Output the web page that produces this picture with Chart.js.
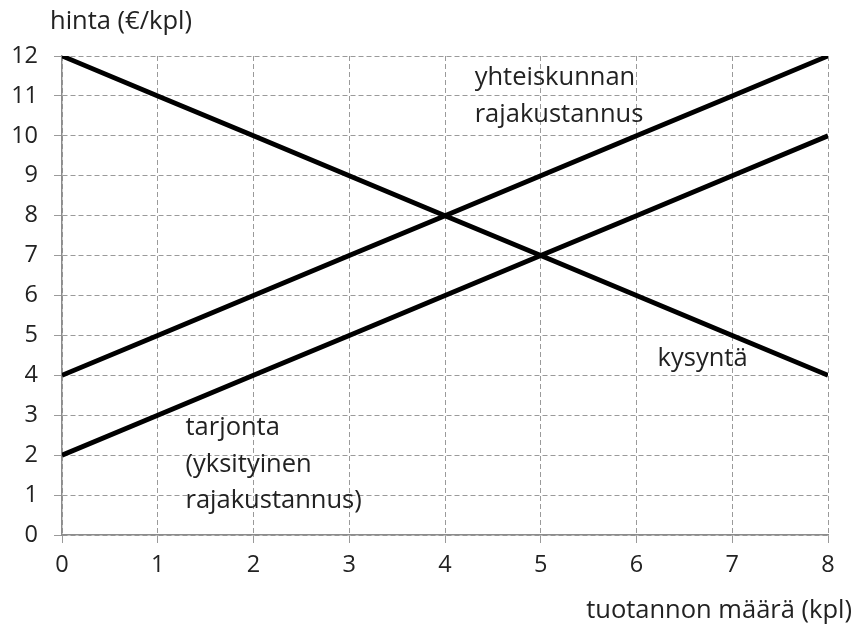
<!DOCTYPE html>
<html>
<head>
<meta charset="utf-8">
<script src="https://cdn.jsdelivr.net/npm/chart.js@4"></script>
<style>
html,body{margin:0;padding:0;background:#fff;}
#wrap{width:855px;height:628px;position:relative;}
</style>
</head>
<body>
<div id="wrap"><canvas id="c" width="855" height="628"></canvas></div>
<script>
const quantities = [0, 1, 2, 3, 4, 5, 6, 7, 8];
const demand = [12, 11, 10, 9, 8, 7, 6, 5, 4];
const supply = [2, 3, 4, 5, 6, 7, 8, 9, 10];
const socialCost = [4, 5, 6, 7, 8, 9, 10, 11, 12];
const yTicks = [0, 1, 2, 3, 4, 5, 6, 7, 8, 9, 10, 11, 12];
const yTitle = 'hinta (€/kpl)';
const xTitle = 'tuotannon määrä (kpl)';
const labelSocial = ['yhteiskunnan', 'rajakustannus'];
const labelDemand = ['kysyntä'];
const labelSupply = ['tarjonta', '(yksityinen', 'rajakustannus)'];

const FONT = '"Open Sans", sans-serif';
const TXT = '#222';
const pts = arr => quantities.map((q, i) => ({x: q, y: arr[i]}));
const lineDs = (label, arr) => ({
  label, data: pts(arr), borderColor: '#000', borderWidth: 4.8,
  pointRadius: 0, fill: false, tension: 0, borderCapStyle: 'butt'
});

const textPlugin = {
  id: 'texts',
  afterDraw(chart) {
    const ctx = chart.ctx;
    const xs = chart.scales.x, ys = chart.scales.y;
    ctx.save();
    ctx.fillStyle = TXT;
    ctx.font = '25.5px ' + FONT;
    ctx.textBaseline = 'middle';
    ctx.textAlign = 'left';
    ctx.fillText(yTitle, 50, 22);
    ctx.textAlign = 'right';
    ctx.fillText(xTitle, 852, 611);
    ctx.textAlign = 'left';
    const block = (lines, xv, yv) => {
      lines.forEach((t, i) => ctx.fillText(t, xs.getPixelForValue(xv), ys.getPixelForValue(yv) + i * 36.5));
    };
    block(labelSocial, 4.31, 11.45);
    block(labelDemand, 6.22, 4.42);
    block(labelSupply, 1.29, 2.68);
    ctx.restore();
  }
};

new Chart(document.getElementById('c'), {
  type: 'line',
  data: { datasets: [lineDs('kysyntä', demand), lineDs('tarjonta', supply), lineDs('yhteiskunnan rajakustannus', socialCost)] },
  options: {
    responsive: false,
    animation: false,
    layout: { padding: { left: 0, top: 56, right: 27, bottom: 0 } },
    plugins: { legend: { display: false }, tooltip: { enabled: false } },
    scales: {
      x: {
        type: 'linear', min: 0, max: 8,
        afterFit(s) { s.height = 93; },
        ticks: { stepSize: 1, color: TXT, font: { family: FONT, size: 23.5 }, padding: 8, maxRotation: 0 },
        grid: { color: '#9a9a9a', lineWidth: 1, tickLength: 8, tickColor: '#9a9a9a' },
        border: { display: true, color: '#8c8c8c', width: 1.5, dash: [5, 3] }
      },
      y: {
        type: 'linear', min: 0, max: 12,
        afterFit(s) { s.width = 62; },
        afterBuildTicks(s) { s.ticks = yTicks.map(v => ({value: v})); },
        ticks: { color: TXT, font: { family: FONT, size: 23.5 }, padding: 16 },
        grid: { color: '#9a9a9a', lineWidth: 1, tickLength: 8, tickColor: '#9a9a9a' },
        border: { display: true, color: '#8c8c8c', width: 1.5, dash: [5, 3] }
      }
    }
  },
  plugins: [textPlugin]
});
</script>
</body>
</html>
